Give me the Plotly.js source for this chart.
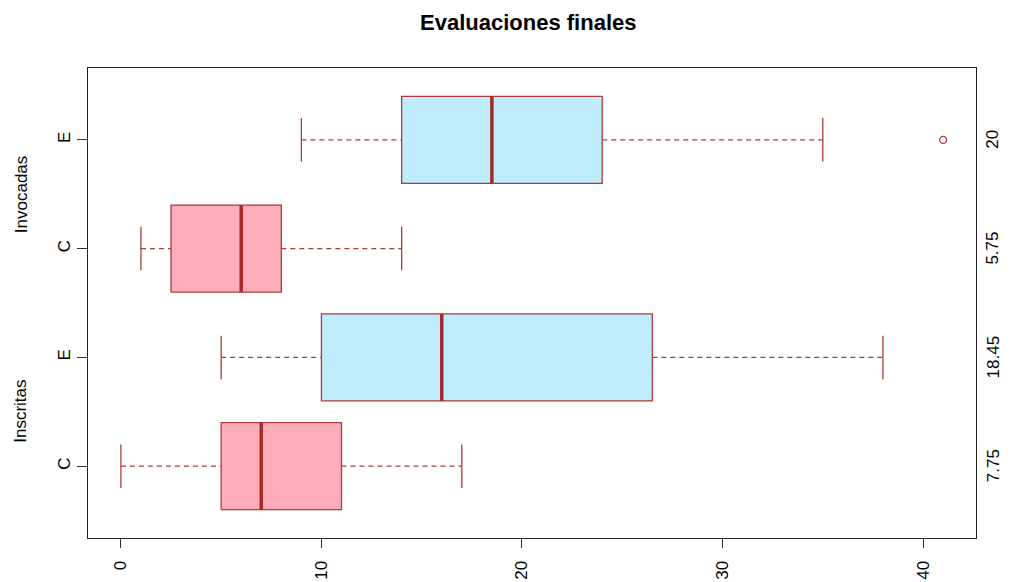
<!DOCTYPE html>
<html>
<head>
<meta charset="utf-8">
<script src="https://cdn.plot.ly/plotly-3.0.1.min.js"></script>
<style>html,body{margin:0;padding:0;background:#fff;}#chart{width:1012px;height:582px;}</style>
</head>
<body>
<div id="chart"></div>
<script>
// Data
const positions   = [1, 2, 3, 4];
const tickLabels  = ["C", "E", "C", "E"];
const groupLabels = ["Inscritas", "Invocadas"];
const groupPos    = [1.5, 3.5];
const lowWhisker  = [0, 5, 1, 9];
const q1Values    = [5, 10, 2.5, 14];
const medians     = [7, 16, 6, 18.5];
const q3Values    = [11, 26.5, 8, 24];
const highWhisker = [17, 38, 14, 35];
const meanLabels  = ["7.75", "18.45", "5.75", "20"];
const outlierX    = [41];
const outlierY    = [4];
const fills       = ["#FFADB9", "#BFEDFD", "#FFADB9", "#BFEDFD"];

const lineCol = "#B03A3A";
const medCol  = "#A52A2A";
const boxW = 0.8;
const capHalf = 0.2;

const traces = [];
positions.forEach((p, i) => {
  traces.push({
    type: 'box', orientation: 'h',
    y: [p], q1: [q1Values[i]], median: [medians[i]], q3: [q3Values[i]],
    lowerfence: [q1Values[i]], upperfence: [q3Values[i]],
    width: boxW, fillcolor: fills[i],
    line: {color: lineCol, width: 1.3},
    whiskerwidth: 0, boxpoints: false, hoverinfo: 'skip', showlegend: false
  });
  // dashed whiskers
  traces.push({
    type: 'scatter', mode: 'lines',
    x: [lowWhisker[i], q1Values[i], null, q3Values[i], highWhisker[i]],
    y: [p, p, null, p, p],
    line: {color: lineCol, width: 1.3, dash: '5px,4px'},
    hoverinfo: 'skip', showlegend: false
  });
  // caps
  traces.push({
    type: 'scatter', mode: 'lines',
    x: [lowWhisker[i], lowWhisker[i], null, highWhisker[i], highWhisker[i]],
    y: [p - capHalf, p + capHalf, null, p - capHalf, p + capHalf],
    line: {color: lineCol, width: 1.3},
    hoverinfo: 'skip', showlegend: false
  });
  // thick median
  traces.push({
    type: 'scatter', mode: 'lines',
    x: [medians[i], medians[i]],
    y: [p - boxW / 2, p + boxW / 2],
    line: {color: medCol, width: 3.5},
    hoverinfo: 'skip', showlegend: false
  });
});
traces.push({
  type: 'scatter', mode: 'markers', x: outlierX, y: outlierY,
  marker: {symbol: 'circle-open', size: 7, color: lineCol, line: {width: 1.3}},
  hoverinfo: 'skip', showlegend: false
});

const font = {family: 'Liberation Sans, Arial, sans-serif', color: '#000'};
const annotations = [];
groupLabels.forEach((g, i) => annotations.push({
  text: g, xref: 'paper', yref: 'y', x: 0, y: groupPos[i],
  xshift: -67, textangle: -90, showarrow: false,
  font: Object.assign({size: 17}, font), xanchor: 'center', yanchor: 'middle'
}));
meanLabels.forEach((m, i) => annotations.push({
  text: m, xref: 'paper', yref: 'y', x: 1, y: positions[i],
  xshift: 17, textangle: -90, showarrow: false,
  font: Object.assign({size: 17}, font), xanchor: 'center', yanchor: 'middle'
}));

const layout = {
  width: 1012, height: 582,
  margin: {l: 88, r: 36, t: 68, b: 44},
  paper_bgcolor: '#fff', plot_bgcolor: '#fff',
  title: {text: '<b>Evaluaciones finales</b>', x: 0.522, xanchor: 'center', y: 0.962, yanchor: 'middle',
          font: Object.assign({size: 22}, font)},
  font: font,
  showlegend: false,
  xaxis: {
    range: [-1.64, 42.64], tickvals: [0, 10, 20, 30, 40], ticktext: ['0', '10', '20', '30', '40'],
    tickangle: -90, ticks: 'outside', ticklen: 9, tickcolor: '#333', tickwidth: 1,
    ticklabelstandoff: 6,
    showgrid: false, zeroline: false, showline: true, mirror: true, linecolor: '#222', linewidth: 1,
    tickfont: Object.assign({size: 17}, font)
  },
  yaxis: {
    range: [0.34, 4.66], tickvals: positions, ticktext: tickLabels,
    tickangle: -90, ticks: 'outside', ticklen: 10, tickcolor: '#333', tickwidth: 1,
    showgrid: false, zeroline: false, showline: true, mirror: true, linecolor: '#222', linewidth: 1,
    tickfont: Object.assign({size: 17}, font)
  },
  annotations: annotations
};

Plotly.newPlot('chart', traces, layout, {displayModeBar: false, staticPlot: true});
</script>
</body>
</html>
